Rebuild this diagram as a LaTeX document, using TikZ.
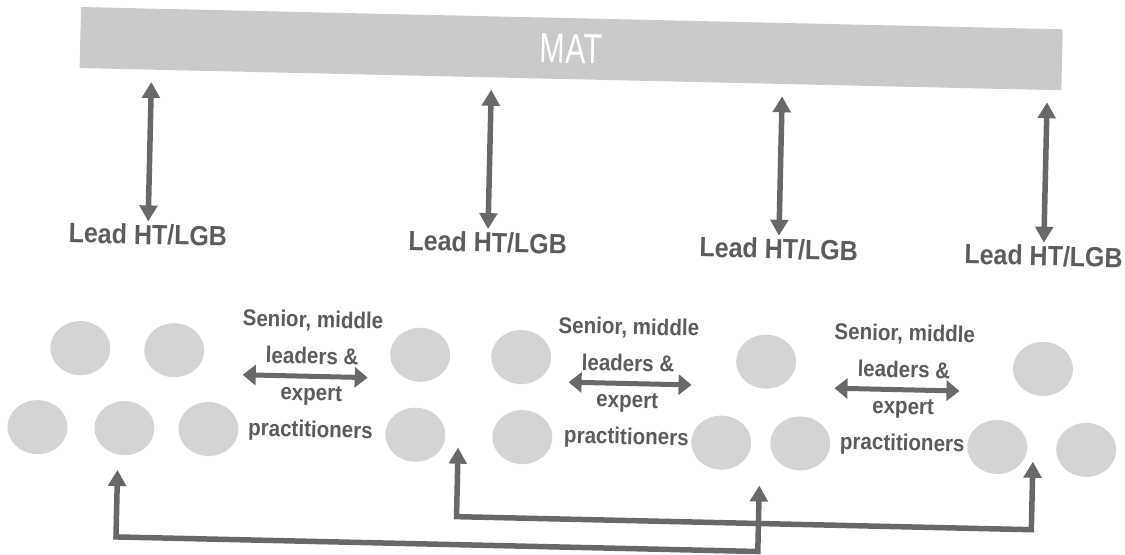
\documentclass[tikz,border=0pt]{standalone}
\usepackage{fontspec}
\setmainfont{Liberation Sans}
\usetikzlibrary{positioning,arrows.meta,shapes.geometric}
\definecolor{arrowgray}{HTML}{686868}
\definecolor{textgray}{HTML}{5C5C5C}
\definecolor{dotgray}{HTML}{D4D4D4}
\definecolor{bargray}{HTML}{CACACA}

\begin{document}
\begin{tikzpicture}[x=0.2mm,y=-0.2mm,
    dot/.style={ellipse,fill=dotgray,minimum width=12mm,minimum height=10.8mm,inner sep=0pt},
    lead/.style={text=textgray,inner sep=0pt,xscale=0.9,font=\bfseries\fontsize{15.8}{19}\selectfont},
    staff/.style={text=textgray,align=center,xscale=0.9,font=\bfseries\fontsize{13}{20.8}\selectfont},
    link/.style={draw=arrowgray,line width=1.1mm,
      {Triangle[length=3.2mm,width=3.5mm]}-{Triangle[length=3.2mm,width=3.5mm]}},
    swap/.style={draw=arrowgray,line width=1mm,
      {Triangle[length=2.6mm,width=4mm]}-{Triangle[length=2.6mm,width=4mm]}}]
  \useasboundingbox (0,0) rectangle (1125,555);
  \begin{scope}[rotate around={-1.3:(562,277)},transform shape]
    \node[fill=bargray,minimum width=196.4mm,minimum height=12.2mm,inner sep=0pt] (mat) at (566,48.5)
      {\color{white}\fontsize{24}{28}\selectfont\scalebox{0.72}[1]{MAT}};

    \node[lead] (lead1) at (147,244) {Lead HT/LGB};
    \node[lead] (lead2) at (487,244) {Lead HT/LGB};
    \node[lead] (lead3) at (778,244) {Lead HT/LGB};
    \node[lead] (lead4) at (1043,245) {Lead HT/LGB};
    \foreach \i in {1,...,4}
      \draw[link,shorten <=2.4mm,shorten >=0.5mm] (mat.south -| lead\i.north) -- (lead\i.north);

    \node[dot] (d1) at (82,359) {};
    \node[dot] (d2) at (176,359) {};
    \node[dot] (d3) at (41,439) {};
    \node[dot] (d4) at (128,438) {};
    \node[dot] (d5) at (212,437) {};
    \node[dot] (d6) at (422,358) {};
    \node[dot] (d7) at (419,438) {};
    \node[dot] (d8) at (523,358) {};
    \node[dot] (d9) at (526,438) {};
    \node[dot] (d10) at (768,357) {};
    \node[dot] (d11) at (725,439) {};
    \node[dot] (d12) at (804,438) {};
    \node[dot] (d13) at (1045,358) {};
    \node[dot] (d14) at (1001,437) {};
    \node[dot] (d15) at (1090,438) {};

    \node[staff] (grpA) at (314,382) {Senior, middle\\leaders \&\\expert\\practitioners};
    \node[staff] (grpB) at (630,382) {Senior, middle\\leaders \&\\expert\\practitioners};
    \node[staff] (grpC) at (906,382) {Senior, middle\\leaders \&\\expert\\practitioners};
    \draw[swap] ([xshift=-13.8mm]grpA.center) -- ([xshift=11.2mm]grpA.center);
    \draw[swap] ([xshift=-11.8mm]grpB.center) -- ([xshift=12.8mm]grpB.center);
    \draw[swap] ([xshift=-13.8mm]grpC.center) -- ([xshift=11.2mm]grpC.center);

    \coordinate (tipA) at (122,480);
    \coordinate (tipB) at (764,481);
    \coordinate (tipC) at (462,450);
    \coordinate (tipD) at (1037,451);
    \draw[link] (tipA) -- (tipA |- 0,547) -- (tipB |- 0,547) -- (tipB);
    \draw[link] (tipC) -- (tipC |- 0,519) -- (tipD |- 0,519) -- (tipD);
  \end{scope}
\end{tikzpicture}
\end{document}
